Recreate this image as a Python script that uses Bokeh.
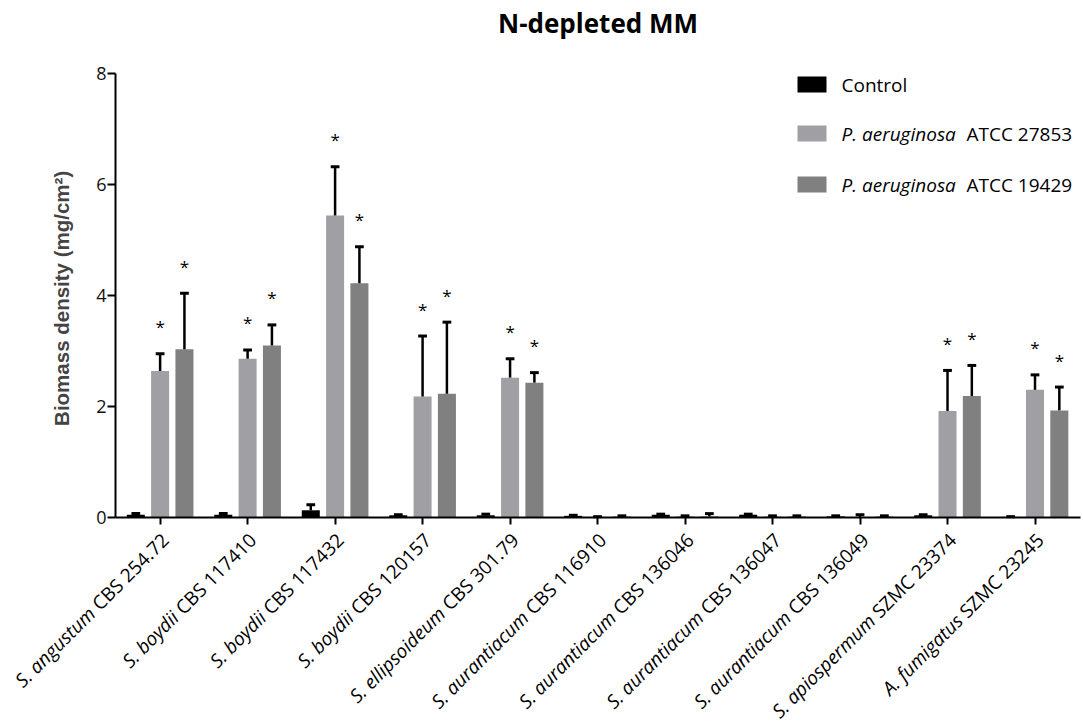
import math
from bokeh.plotting import figure
from bokeh.models import ColumnDataSource, FixedTicker, LinearAxis, Range1d
from bokeh.core.properties import value
from bokeh.embed import file_html
from bokeh.resources import INLINE

# ---------------- data ----------------
strain_species = ["S. angustum", "S. boydii", "S. boydii", "S. boydii", "S. ellipsoideum",
                  "S. aurantiacum", "S. aurantiacum", "S. aurantiacum", "S. aurantiacum",
                  "S. apiospermum", "A. fumigatus"]
strain_codes = ["CBS 254.72", "CBS 117410", "CBS 117432", "CBS 120157", "CBS 301.79",
                "CBS 116910", "CBS 136046", "CBS 136047", "CBS 136049",
                "SZMC 23374", "SZMC 23245"]

control = [0.05, 0.05, 0.13, 0.04, 0.04, 0.03, 0.05, 0.05, 0.02, 0.04, 0.01]
control_err = [0.02, 0.02, 0.10, 0.01, 0.02, 0.01, 0.01, 0.01, 0.01, 0.01, 0.005]
pa27853 = [2.64, 2.86, 5.44, 2.18, 2.52, 0.01, 0.02, 0.02, 0.01, 1.92, 2.30]
pa27853_err = [0.31, 0.16, 0.88, 1.09, 0.34, 0.005, 0.01, 0.01, 0.04, 0.73, 0.27]
pa19429 = [3.03, 3.10, 4.22, 2.23, 2.43, 0.02, 0.02, 0.02, 0.02, 2.19, 1.93]
pa19429_err = [1.01, 0.37, 0.66, 1.29, 0.18, 0.01, 0.05, 0.01, 0.01, 0.55, 0.42]
sig27853 = [1, 1, 1, 1, 1, 0, 0, 0, 0, 1, 1]
sig19429 = [1, 1, 1, 1, 1, 0, 0, 0, 0, 1, 1]

y_ticks = [0, 2, 4, 6, 8]
legend_italic = ["", "P. aeruginosa", "P. aeruginosa"]
legend_normal = ["Control", "ATCC 27853", "ATCC 19429"]
title_text = "N-depleted MM"
y_label = "Biomass density  (mg/cm\u00b2)"

# ---------------- layout ----------------
W, H = 1083, 722
PX_LEFT, PX_RIGHT, PX_TOP, PX_BOTTOM = 115, 1080, 73, 517   # plot area in canvas px
X0, X1 = -0.51, 10.52
Y0, Y1 = 0, 8
ppx = (PX_RIGHT - PX_LEFT) / (X1 - X0)
ppy = (PX_BOTTOM - PX_TOP) / (Y1 - Y0)
XR = Range1d(X0 - PX_LEFT / ppx, X1 + (W - PX_RIGHT) / ppx)
YR = Range1d(Y0 - (H - PX_BOTTOM) / ppy, Y1 + PX_TOP / ppy)

def dx(px):  # canvas px -> data x
    return X0 + (px - PX_LEFT) / ppx

def dy(py):  # canvas px (top-down) -> data y
    return Y1 - (py - PX_TOP) / ppy

FONT = "Open Sans"
C_CTRL, C_L, C_D = "#000000", "#A0A0A4", "#808080"

p = figure(width=W, height=H, output_backend="svg", toolbar_location=None,
           x_range=XR, y_range=YR, x_axis_location=None, y_axis_location=None,
           min_border=0)
p.min_border_left = p.min_border_right = p.min_border_top = p.min_border_bottom = 0
p.outline_line_color = None
p.xgrid.visible = False
p.ygrid.visible = False
p.background_fill_color = "white"
p.border_fill_color = "white"

n = len(control)
idx = list(range(n))
OFF = 0.278
BW = 0.206

series = [(control, control_err, -OFF, C_CTRL, None),
          (pa27853, pa27853_err, 0.0, C_L, sig27853),
          (pa19429, pa19429_err, OFF, C_D, sig19429)]

star_gap = 27 / ppy
for vals, errs, off, col, sig in series:
    xs = [i + off for i in idx]
    tops = [v + e for v, e in zip(vals, errs)]
    src = ColumnDataSource(dict(x=xs, top=vals, etop=tops,
                                c0=[x - 0.05 for x in xs], c1=[x + 0.05 for x in xs]))
    p.vbar(x="x", top="top", bottom=0, width=BW, source=src, fill_color=col,
           line_color=None)
    p.segment(x0="x", y0="top", x1="x", y1="etop", source=src, line_color="black",
              line_width=2.5)
    p.segment(x0="c0", y0="etop", x1="c1", y1="etop", source=src, line_color="black",
              line_width=3)
    if sig is not None:
        sx = [x for x, s in zip(xs, sig) if s]
        sy = [t + star_gap for t, s in zip(tops, sig) if s]
        p.text(x=sx, y=sy, text=["*"] * len(sx), text_align="center",
               text_baseline="middle", text_font=value(FONT), text_font_size="17px",
               text_color="black")

# axes placed at fixed data locations
yax = LinearAxis(fixed_location=X0, bounds=(Y0, Y1), ticker=FixedTicker(ticks=y_ticks))
yax.minor_tick_line_color = None
yax.major_tick_in = 0
yax.major_tick_out = 8
yax.major_tick_line_width = 2
yax.axis_line_width = 2
yax.major_label_text_font = FONT
yax.major_label_text_font_size = "18px"
yax.major_label_text_color = "#111111"
yax.major_label_standoff = 1
yax.axis_label = y_label
yax.axis_label_text_font = "Liberation Sans"
yax.axis_label_text_font_style = "bold"
yax.axis_label_text_font_size = "20.5px"
yax.axis_label_standoff = 20
p.add_layout(yax, "left")

xax = LinearAxis(fixed_location=Y0, bounds=(X0, X1), ticker=FixedTicker(ticks=idx))
xax.minor_tick_line_color = None
xax.major_tick_in = 0
xax.major_tick_out = 7
xax.major_tick_line_width = 2
xax.axis_line_width = 2
xax.major_label_overrides = {i: "" for i in idx}
p.add_layout(xax, "below")

# rotated category labels (italic species + normal code)
LFS = 19
adv = {" ": 532, ".": 545, "B": 1327, "C": 1292, "M": 1819, "S": 1126, "Z": 1171}
def w_normal(s):
    return sum(adv.get(ch, 1171) for ch in s) * LFS / 2048

c45 = math.cos(math.radians(45))
ax_ = [i - 4 / ppx for i in idx]
ay_ = -10 / ppy
it_x, it_y = [], []
for i, code in enumerate(strain_codes):
    w = w_normal(code + " ")
    it_x.append(ax_[i] - w * c45 / ppx)
    it_y.append(ay_ - w * c45 / ppy)
p.text(x=ax_, y=[ay_] * n, text=strain_codes, angle=45, angle_units="deg",
       text_align="right", text_baseline="top", text_font=value(FONT),
       text_font_size=f"{LFS}px", text_color="black")
p.text(x=it_x, y=it_y, text=strain_species, angle=45, angle_units="deg",
       text_align="right", text_baseline="top", text_font=value(FONT),
       text_font_size=f"{LFS}px", text_font_style="italic", text_color="black")

# title
p.text(x=[(X0 + X1) / 2], y=[dy(22)], text=[title_text], text_align="center",
       text_baseline="middle", text_font=value(FONT), text_font_size="26px",
       text_font_style="bold", text_color="black")

# legend (manual, mixed italic/normal)
leg_colors = [C_CTRL, C_L, C_D]
row_y = [dy(r) for r in (84, 133, 184)]
sh = 8 / ppy
p.quad(left=[dx(797)] * 3, right=[dx(826)] * 3, top=[y + sh for y in row_y],
       bottom=[y - sh for y in row_y], fill_color=leg_colors, line_color=None)
tx_norm = [dx(841), dx(966), dx(966)]
p.text(x=[dx(841)] * 3, y=row_y, text=legend_italic, text_align="left",
       text_baseline="middle", text_font=value(FONT), text_font_size="19px",
       text_font_style="italic", text_color="black")
p.text(x=tx_norm, y=row_y, text=legend_normal, text_align="left", text_baseline="middle",
       text_font=value(FONT), text_font_size="19px", text_color="black")

open("out.html", "w").write(file_html(p, INLINE))
